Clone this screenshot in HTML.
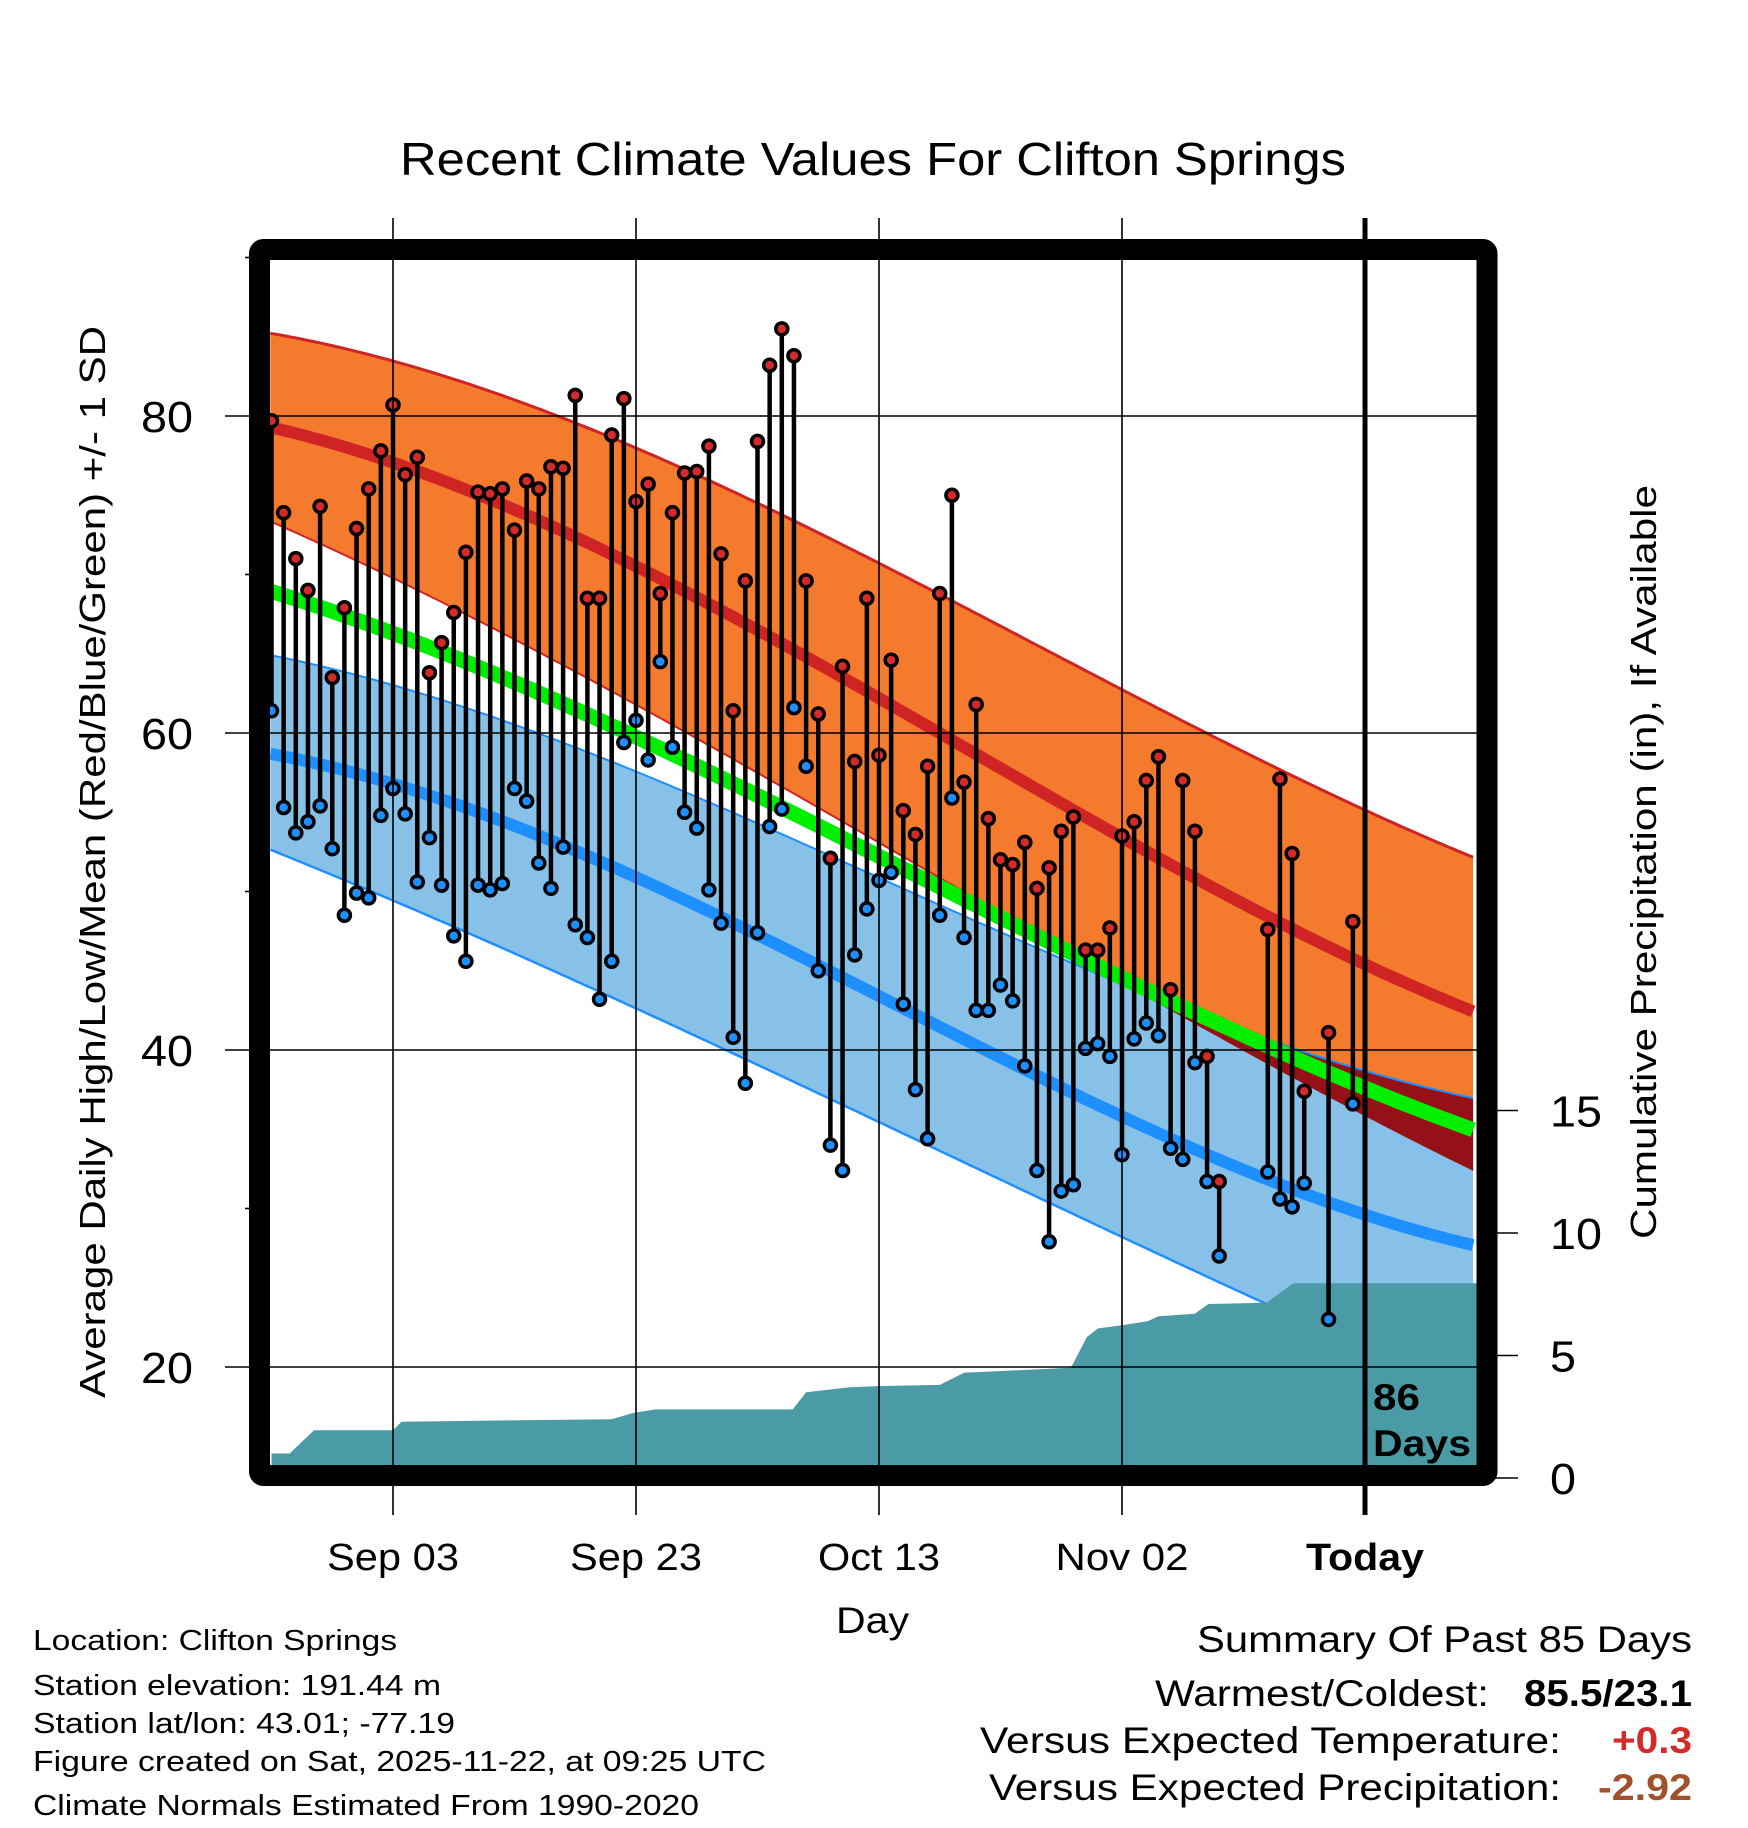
<!DOCTYPE html>
<html><head><meta charset="utf-8"><style>
html,body{margin:0;padding:0;background:#fff;}
svg{display:block;font-family:"Liberation Sans",Arial,sans-serif;}
</style></head><body>
<svg id="chart" width="1748" height="1828" viewBox="0 0 1748 1828" xmlns="http://www.w3.org/2000/svg">
<text x="400" y="175" font-size="46" textLength="946" lengthAdjust="spacingAndGlyphs">Recent Climate Values For Clifton Springs</text>
<g id="plot"></g>
<text transform="translate(105,862) rotate(-90)" font-size="36" text-anchor="middle" textLength="1072" lengthAdjust="spacingAndGlyphs">Average Daily High/Low/Mean (Red/Blue/Green) +/- 1 SD</text>
<text transform="translate(1656,862) rotate(-90)" font-size="36" text-anchor="middle" textLength="754" lengthAdjust="spacingAndGlyphs">Cumulative Precipitation (in), If Available</text>
<text x="836" y="1633" font-size="37" textLength="73" lengthAdjust="spacingAndGlyphs">Day</text>
<g font-size="29">
<text x="33" y="1650" textLength="364" lengthAdjust="spacingAndGlyphs">Location: Clifton Springs</text>
<text x="33" y="1695" textLength="408" lengthAdjust="spacingAndGlyphs">Station elevation: 191.44 m</text>
<text x="33" y="1733" textLength="422" lengthAdjust="spacingAndGlyphs">Station lat/lon: 43.01; -77.19</text>
<text x="33" y="1771" textLength="733" lengthAdjust="spacingAndGlyphs">Figure created on Sat, 2025-11-22, at 09:25 UTC</text>
<text x="33" y="1815" textLength="666" lengthAdjust="spacingAndGlyphs">Climate Normals Estimated From 1990-2020</text>
</g>
<g font-size="37">
<text x="1197" y="1652" textLength="495" lengthAdjust="spacingAndGlyphs">Summary Of Past 85 Days</text>
<text x="1155" y="1706" textLength="334" lengthAdjust="spacingAndGlyphs">Warmest/Coldest:</text>
<text x="1524" y="1706" font-weight="bold" textLength="168" lengthAdjust="spacingAndGlyphs">85.5/23.1</text>
<text x="980" y="1753" textLength="581" lengthAdjust="spacingAndGlyphs">Versus Expected Temperature:</text>
<text x="1612" y="1753" font-weight="bold" fill="#d42a2a" textLength="80" lengthAdjust="spacingAndGlyphs">+0.3</text>
<text x="989" y="1800" textLength="572" lengthAdjust="spacingAndGlyphs">Versus Expected Precipitation:</text>
<text x="1598" y="1800" font-weight="bold" fill="#a0522d" textLength="94" lengthAdjust="spacingAndGlyphs">-2.92</text>
</g>
</svg>
<script>
// ---- data ----
const normDays = [-10.1,0,10,20,30,40,50,60,70,80,89.2];
const highPlusSD = [84.7,83.8,81.8,78.3,74.0,69.8,66.4,63.0,59.6,55.5,51.5];
const highMean   = [78.8,77.3,74.9,71.0,66.0,61.0,57.5,53.8,50.0,45.7,41.8];
const highMinusSD= [72.6,70.4,67.2,61.6,56.5,52.2,48.6,45.0,40.6,35.6,32.0];
const avgMean    = [68.4,66.9,63.8,59.7,55.6,51.4,48.5,44.9,41.3,37.7,34.6];
const lowPlusSD  = [64.6,63.3,60.8,57.9,54.0,50.2,47.3,44.5,41.6,38.7,36.7];
const lowMean    = [58.3,57.2,54.5,51.2,46.5,43.0,39.6,36.1,32.8,29.5,27.5];
const lowMinusSD = [52.1,50.2,46.5,42.3,38.6,35.2,31.9,28.5,24.8,21.2,17.9];
const obsDays = [-10,-9,-8,-7,-6,-5,-4,-3,-2,-1,0,1,2,3,4,5,6,7,8,9,10,11,12,13,14,15,16,17,18,19,20,21,22,23,24,25,26,27,28,29,30,31,32,33,34,35,36,37,38,39,40,41,42,43,44,45,46,47,48,49,50,51,52,53,54,55,56,57,58,59,60,61,62,63,64,65,66,67,68,72,73,74,75,77,79];
const obsHigh = [79.7,73.9,71.0,69.0,74.3,63.5,67.9,72.9,75.4,77.8,80.7,76.3,77.4,63.8,65.7,67.6,71.4,75.2,75.1,75.4,72.8,75.9,75.4,76.8,76.7,81.3,68.5,68.5,78.8,81.1,74.6,75.7,68.8,73.9,76.4,76.5,78.1,71.3,61.4,69.6,78.4,83.2,85.5,83.8,69.6,61.2,52.1,64.2,58.2,68.5,58.6,64.6,55.1,53.6,57.9,68.8,75.0,56.9,61.8,54.6,52.0,51.7,53.1,50.2,51.5,53.8,54.7,46.3,46.3,47.7,53.5,54.4,57.0,58.5,43.8,57.0,53.8,39.6,31.7,47.6,57.1,52.4,37.4,41.1,48.1];
const obsLow  = [61.4,55.3,53.7,54.4,55.4,52.7,48.5,49.9,49.6,54.8,56.5,54.9,50.6,53.4,50.4,47.2,45.6,50.4,50.1,50.5,56.5,55.7,51.8,50.2,52.8,47.9,47.1,43.2,45.6,59.4,60.8,58.3,64.5,59.1,55.0,54.0,50.1,48.0,40.8,37.9,47.4,54.1,55.2,61.6,57.9,45.0,34.0,32.4,46.0,48.9,50.7,51.2,42.9,37.5,34.4,48.5,55.9,47.1,42.5,42.5,44.1,43.1,39.0,32.4,27.9,31.1,31.5,40.1,40.4,39.6,33.4,40.7,41.7,40.9,33.8,33.1,39.2,31.7,27.0,32.3,30.6,30.1,31.6,23.0,36.6];
const precipDays = [-10,-8.5,-6.5,0,0.7,18,19.7,21.6,32.9,34,37.6,40,45,47,55.8,57.1,58,60.2,62.1,63,66,67.1,71.9,74.1,89.2];
const precipVals = [1.0,1.0,1.95,1.95,2.3,2.4,2.65,2.8,2.8,3.5,3.7,3.75,3.8,4.3,4.5,5.75,6.1,6.25,6.4,6.6,6.7,7.1,7.15,7.95,7.95];
const tempTicks = [20,40,60,80];
const tempMinor = [30,50,70,90];
const precipTicks = [0,5,10,15];
const dateTicks = [0,20,40,60,80];
const dateLabels = ["Sep 03","Sep 23","Oct 13","Nov 02","Today"];
const dateLabelWidths = [132,132,122,133,118];

// ---- scales ----
const L=270,T=260,R=1477,B=1466;
const X = d => 393 + d*12.15;
const Y = v => 416 + (80 - v)*15.85;
const P = p => 1478 - p*24.5;
const NS="http://www.w3.org/2000/svg";
const plot=document.getElementById('plot');
function mk(tag,attrs,parent){const e=document.createElementNS(NS,tag);for(const k in attrs)e.setAttribute(k,attrs[k]);(parent||plot).appendChild(e);return e;}

// cubic least-squares fit through the normal values (smooth curve)
function fit(arr){
  const n=4,A=[],b=[];
  for(let i=0;i<n;i++){A.push(new Array(n).fill(0));b.push(0);}
  normDays.forEach((d,k)=>{const t=d/50;const p=[1,t,t*t,t*t*t];
    for(let i=0;i<n;i++){b[i]+=p[i]*arr[k];for(let j=0;j<n;j++)A[i][j]+=p[i]*p[j];}});
  for(let i=0;i<n;i++){let m=i;for(let r=i+1;r<n;r++)if(Math.abs(A[r][i])>Math.abs(A[m][i]))m=r;
    [A[i],A[m]]=[A[m],A[i]];[b[i],b[m]]=[b[m],b[i]];
    for(let r=0;r<n;r++){if(r===i)continue;const f=A[r][i]/A[i][i];for(let c=i;c<n;c++)A[r][c]-=f*A[i][c];b[r]-=f*b[i];}}
  const c=b.map((v,i)=>v/A[i][i]);
  return d=>{const t=d/50;return c[0]+c[1]*t+c[2]*t*t+c[3]*t*t*t;};
}
const samp=[];for(let d=normDays[0];d<=normDays[normDays.length-1]+0.001;d+=0.5)samp.push(d);
const line=arr=>{const f=fit(arr);return samp.map(d=>X(d).toFixed(1)+','+Y(f(d)).toFixed(1));};
const band=(a,b)=>line(a).concat(line(b).reverse()).join(' ');

const defs=mk('defs',{});
const cp=mk('clipPath',{id:'clip'},defs);
mk('rect',{x:L,y:T,width:R-L,height:B-T},cp);
const g=mk('g',{'clip-path':'url(#clip)'});

tempTicks.forEach(v=>{const e=mk('line',{x1:225,x2:R,y1:Y(v),y2:Y(v),stroke:'#000','stroke-width':1.6});

});
dateTicks.slice(0,4).forEach((d,i)=>{const e=mk('line',{x1:X(d),x2:X(d),y1:218,y2:1515,stroke:'#000','stroke-width':1.6});

});

let e;
e=mk('polygon',{points:band(highPlusSD,highMinusSD),fill:'#f47a2e'},g);


mk('polyline',{points:line(highPlusSD).join(' '),fill:'none',stroke:'#d02424','stroke-width':3},g);
mk('polyline',{points:line(highMinusSD).join(' '),fill:'none',stroke:'#d02424','stroke-width':2},g);
e=mk('polygon',{points:band(lowPlusSD,lowMinusSD),fill:'#87c1e8'},g);


const fLP=fit(lowPlusSD),fHM=fit(highMinusSD);
const ovTop=samp.map(d=>X(d).toFixed(1)+','+Y(fLP(d)).toFixed(1));
const ovBot=samp.map(d=>X(d).toFixed(1)+','+Y(Math.min(fLP(d),fHM(d))).toFixed(1));
e=mk('polygon',{points:ovTop.concat(ovBot.reverse()).join(' '),fill:'#961018'},g);


mk('polyline',{points:line(lowPlusSD).join(' '),fill:'none',stroke:'#1e8fff','stroke-width':2},g);
mk('polyline',{points:line(lowMinusSD).join(' '),fill:'none',stroke:'#1e8fff','stroke-width':2.5},g);
e=mk('polyline',{points:line(highMean).join(' '),fill:'none',stroke:'#d02424','stroke-width':12},g);


e=mk('polyline',{points:line(avgMean).join(' '),fill:'none',stroke:'#00ee00','stroke-width':15},g);


e=mk('polyline',{points:line(lowMean).join(' '),fill:'none',stroke:'#1e8fff','stroke-width':12},g);



let pp=[X(precipDays[0])+','+(B+20)];
precipDays.forEach((d,i)=>pp.push(X(d).toFixed(1)+','+P(precipVals[i]).toFixed(1)));
pp.push(X(precipDays[precipDays.length-1])+','+(B+20));
e=mk('polygon',{points:pp.join(' '),fill:'#4a9ba5'},g);



e=mk('line',{x1:X(80),x2:X(80),y1:218,y2:1515,stroke:'#000','stroke-width':5});



obsDays.forEach((d,i)=>{
  const s=mk('line',{x1:X(d),x2:X(d),y1:Y(obsHigh[i]),y2:Y(obsLow[i]),stroke:'#000','stroke-width':4.5},g);
  
  
});
obsDays.forEach((d,i)=>{
  const h=mk('circle',{cx:X(d),cy:Y(obsHigh[i]),r:6,fill:'#d42a2a',stroke:'#000','stroke-width':3.5},g);
  
  
  const l=mk('circle',{cx:X(d),cy:Y(obsLow[i]),r:6,fill:'#1e8fff',stroke:'#000','stroke-width':3.5},g);
  
  
});

e=mk('text',{x:1373,y:1410,'font-size':37,'font-weight':'bold',textLength:47,lengthAdjust:'spacingAndGlyphs'});e.textContent='86';


e=mk('text',{x:1373,y:1456,'font-size':37,'font-weight':'bold',textLength:98,lengthAdjust:'spacingAndGlyphs'});e.textContent='Days';



e=mk('rect',{x:259.5,y:249.5,width:1227.5,height:1226,fill:'none',stroke:'#000','stroke-width':21,rx:4});



tempTicks.forEach(v=>{const t=mk('text',{x:193,y:Y(v)+16,'font-size':44,'text-anchor':'end',textLength:52,lengthAdjust:'spacingAndGlyphs'});t.textContent=v;

});
tempMinor.forEach(v=>{mk('line',{x1:245,x2:260,y1:Y(v),y2:Y(v),stroke:'#000','stroke-width':1.6});});
precipTicks.forEach(p=>{mk('line',{x1:1495,x2:1518,y1:P(p),y2:P(p),stroke:'#000','stroke-width':1.6});
const t=mk('text',{x:1550,y:P(p)+16,'font-size':44,textLength:String(p).length*26,lengthAdjust:'spacingAndGlyphs'});t.textContent=p;

});
dateTicks.forEach((d,i)=>{const t=mk('text',{x:X(d)-dateLabelWidths[i]/2,y:1570,'font-size':38,'font-weight':i===4?'bold':'normal',textLength:dateLabelWidths[i],lengthAdjust:'spacingAndGlyphs'});t.textContent=dateLabels[i];

});
</script>
</body></html>
